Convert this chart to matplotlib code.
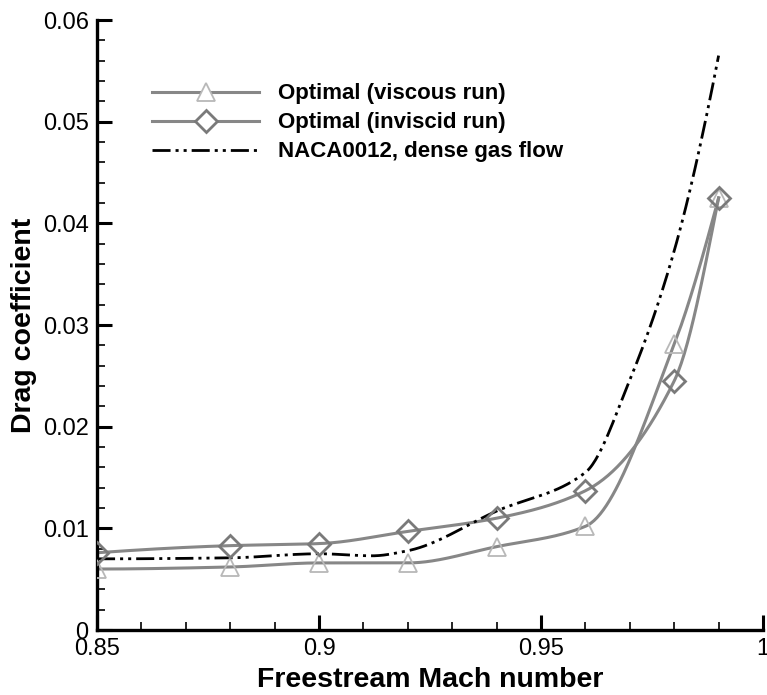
import numpy as np
import matplotlib
matplotlib.use("Agg")
import matplotlib.pyplot as plt
from matplotlib.ticker import MultipleLocator

plt.rcParams['font.family'] = ['Liberation Sans', 'DejaVu Sans']

mach = [0.85, 0.88, 0.90, 0.92, 0.94, 0.96, 0.98, 0.99]
cd_viscous = [0.0060, 0.0062, 0.0066, 0.0066, 0.0082, 0.0102, 0.0281, 0.0425]
cd_inviscid = [0.0076, 0.0083, 0.0085, 0.0097, 0.0110, 0.0137, 0.0245, 0.0425]

mach_naca = [0.85, 0.88, 0.90, 0.912, 0.92, 0.94, 0.96, 0.97, 0.98, 0.99]
cd_naca = [0.0070, 0.0071, 0.0075, 0.0073, 0.0078, 0.0117, 0.0155, 0.0246, 0.0373, 0.0565]

labels = ["Optimal (viscous run)", "Optimal (inviscid run)", "NACA0012, dense gas flow"]


def pchip_curve(x, y, n=400):
    """Shape-preserving cubic (PCHIP) curve through (x, y) on a fine grid."""
    x = np.asarray(x, float)
    y = np.asarray(y, float)
    h = np.diff(x)
    delta = np.diff(y) / h
    k = len(x)
    d = np.zeros(k)
    for i in range(1, k - 1):
        if delta[i - 1] * delta[i] > 0:
            w1 = 2 * h[i] + h[i - 1]
            w2 = h[i] + 2 * h[i - 1]
            d[i] = (w1 + w2) / (w1 / delta[i - 1] + w2 / delta[i])
    # end slopes
    d0 = ((2 * h[0] + h[1]) * delta[0] - h[0] * delta[1]) / (h[0] + h[1])
    if np.sign(d0) != np.sign(delta[0]):
        d0 = 0.0
    d[0] = d0
    dn = ((2 * h[-1] + h[-2]) * delta[-1] - h[-1] * delta[-2]) / (h[-1] + h[-2])
    if np.sign(dn) != np.sign(delta[-1]):
        dn = 0.0
    d[-1] = dn
    xs = np.linspace(x[0], x[-1], n)
    idx = np.clip(np.searchsorted(x, xs) - 1, 0, k - 2)
    t = (xs - x[idx]) / h[idx]
    h00 = 2 * t ** 3 - 3 * t ** 2 + 1
    h10 = t ** 3 - 2 * t ** 2 + t
    h01 = -2 * t ** 3 + 3 * t ** 2
    h11 = t ** 3 - t ** 2
    ys = (h00 * y[idx] + h10 * h[idx] * d[idx]
          + h01 * y[idx + 1] + h11 * h[idx] * d[idx + 1])
    return xs, ys


fig = plt.figure(figsize=(7.67, 6.95), dpi=100)
ax = fig.add_axes([0.1265, 0.0935, 0.8683, 0.8777])

line_gray = '#878787'
tri_gray = '#b8b8b8'
dia_gray = '#7a7a7a'
naca_dash = (6.5, 1.8, 1.1, 1.8, 1.1, 1.8)

# Smooth curves through each data set
xs, ys = pchip_curve(mach, cd_viscous)
ax.plot(xs, ys, color=line_gray, lw=2.2, zorder=2)
xs, ys = pchip_curve(mach, cd_inviscid)
ax.plot(xs, ys, color=line_gray, lw=2.2, zorder=2)
xs, ys = pchip_curve(mach_naca, cd_naca)
ax.plot(xs, ys, color='black', lw=2.0, dashes=naca_dash, zorder=3)

# Symbols at the computed points
ax.plot(mach, cd_viscous, ls='none', marker='^', ms=13, mfc='none',
        mec=tri_gray, mew=1.3, zorder=4)
ax.plot(mach, cd_inviscid, ls='none', marker='D', ms=11.5, mfc='none',
        mec=dia_gray, mew=2.0, zorder=4)

# Legend entries
h1, = ax.plot([], [], color=line_gray, lw=2.2, marker='^', ms=13, mfc='white',
              mec=tri_gray, mew=1.3)
h2, = ax.plot([], [], color=line_gray, lw=2.2, marker='D', ms=11.5, mfc='white',
              mec=dia_gray, mew=2.0)
h3, = ax.plot([], [], color='black', lw=2.0, dashes=naca_dash)
leg = ax.legend([h1, h2, h3], labels, loc='upper left',
                bbox_to_anchor=(0.083, 0.896), frameon=False, numpoints=1,
                handlelength=4.8, handletextpad=0.85, labelspacing=0.36,
                borderpad=0, borderaxespad=0,
                prop={'weight': 'bold', 'size': 16})

ax.set_xlim(0.85, 1.0)
ax.set_ylim(0, 0.06)
ax.xaxis.set_major_locator(MultipleLocator(0.05))
ax.xaxis.set_minor_locator(MultipleLocator(0.01))
ax.yaxis.set_major_locator(MultipleLocator(0.01))
ax.yaxis.set_minor_locator(MultipleLocator(0.002))
ax.xaxis.set_major_formatter(plt.FuncFormatter(lambda v, p: f"{v:g}"))
ax.yaxis.set_major_formatter(plt.FuncFormatter(lambda v, p: f"{v:g}"))

for side in ('top', 'right'):
    ax.spines[side].set_visible(False)
for side in ('left', 'bottom'):
    ax.spines[side].set_linewidth(2.4)

ax.tick_params(which='both', direction='in', labelsize=17, top=False, right=False)
ax.tick_params(which='major', length=11, width=2.2, pad=6)
ax.tick_params(which='minor', length=6, width=1.2)

ax.set_xlabel("Freestream Mach number", fontsize=20.5, fontweight='bold', labelpad=5)
ax.set_ylabel("Drag coefficient", fontsize=20.5, fontweight='bold', labelpad=4)

fig.savefig("out.png", dpi=100)
